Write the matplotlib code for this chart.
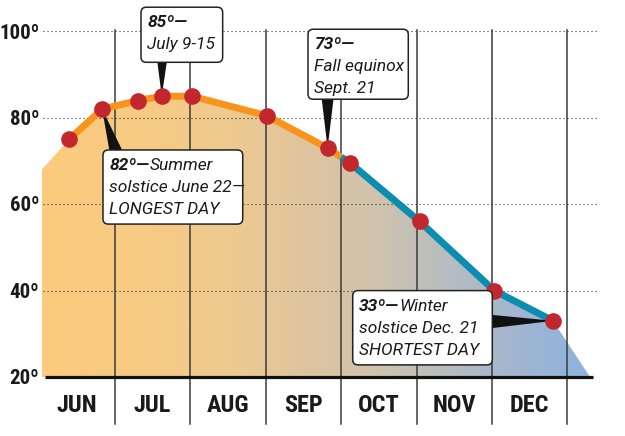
import numpy as np
import matplotlib
matplotlib.use("Agg")
import matplotlib.pyplot as plt
from matplotlib import font_manager
from matplotlib.patches import FancyBboxPatch, Polygon
from matplotlib.colors import LinearSegmentedColormap

# x runs in months: 0 = June 1, 1 = July 1, ... 7 = January 1
months = ["JUN", "JUL", "AUG", "SEP", "OCT", "NOV", "DEC"]
deg_ticks = [20, 40, 60, 80, 100]

# noon sun elevation readings (degrees)
sun_pos = [0.39, 0.83, 1.30, 1.62, 2.02, 3.01, 3.82, 4.12, 5.04, 6.03, 6.81]
sun_deg = [75, 82, 84, 85, 85, 80.5, 73, 69.5, 56, 40, 33]

# shaded area runs a little past the first and last readings
area_start = (0.03, 68)
area_end = (7.30, 20)

# callouts: (bold lead, rest of first line, further lines, index of reading)
callouts = [
    ("85º—", "", ["July 9-15"], 3),
    ("82º—", "Summer", ["solstice June 22—", "LONGEST DAY"], 1),
    ("73º—", "", ["Fall equinox", "Sept. 21"], 6),
    ("33º—", "Winter", ["solstice Dec. 21", "SHORTEST DAY"], 10),
]
# box extents (x0, x1, bottom, top) and pointer base for each callout
boxes = [
    (1.345, 2.428, 92.85, 105.6),
    (0.841, 2.694, 55.4, 72.55),
    (3.560, 4.890, 84.3, 100.5),
    (4.153, 6.004, 22.8, 40.0),
]
pointer_base = [
    [(1.56, 93.2), (1.69, 93.2)],
    [(0.93, 72.0), (1.11, 72.0)],
    [(3.74, 84.6), (3.90, 84.6)],
    [(5.99, 34.4), (5.99, 31.3)],
]

# pick a narrow face for the axis labels
names = {f.name for f in font_manager.fontManager.ttflist}
cond, stretch = "DejaVu Sans", "condensed"
for cand in ["Liberation Sans Narrow", "Roboto Condensed", "Open Sans Condensed",
             "Noto Sans Condensed", "DejaVu Sans Condensed"]:
    if cand in names:
        cond, stretch = cand, "normal"
        break
body = "Roboto" if "Roboto" in names else "DejaVu Sans"

fig = plt.figure(figsize=(6.25, 4.36), dpi=100)
ax = fig.add_axes([0, 0, 1, 1])

# gradient fill under the curve
stops = [(0.03, "#FCCB7C"), (1.5, "#F6CA84"), (2.5, "#EECA90"), (3.5, "#DFC59E"),
         (4.5, "#CFC3AF"), (5.5, "#B5BCC2"), (6.5, "#9DB5D3"), (7.30, "#8EB3DD")]
span = stops[-1][0] - stops[0][0]
cmap = LinearSegmentedColormap.from_list(
    "season", [((p - stops[0][0]) / span, c) for p, c in stops])
area_x = [area_start[0]] + sun_pos + [area_end[0], area_start[0]]
area_y = [area_start[1]] + sun_deg + [area_end[1], area_end[1]]
clip = Polygon(np.column_stack([area_x, area_y]), closed=True,
               facecolor="none", edgecolor="none")
ax.add_patch(clip)
img = ax.imshow(np.linspace(0, 1, 512)[None, :], cmap=cmap, aspect="auto",
                extent=(area_start[0], area_end[0], 20, max(sun_deg) + 2),
                origin="lower", zorder=1, interpolation="bilinear")
img.set_clip_path(clip)

# dotted guides
for d in deg_ticks[1:]:
    ax.plot([0.045, 7.39], [d, d], color="#333333", lw=0.8,
            dashes=(1, 2.6), zorder=2)
# month dividers
for m in range(1, len(months) + 1):
    ax.plot([m, m], [9.1, 100.3], color="#3a3a3a", lw=1.1, zorder=2)
# base line
ax.plot([0.072, 7.34], [20, 20], color="#111111", lw=2.3,
        solid_capstyle="butt", zorder=3)

# sun path: orange through September, blue from October
split = 4.0
split_deg = np.interp(split, sun_pos, sun_deg)
xs = np.array(sun_pos)
ys = np.array(sun_deg)
warm = xs < split
ax.plot(np.r_[xs[warm], split], np.r_[ys[warm], split_deg],
        color="#F7941D", lw=5, solid_capstyle="butt", zorder=4)
ax.plot(np.r_[split, xs[~warm]], np.r_[split_deg, ys[~warm]],
        color="#0A8DB0", lw=5, solid_capstyle="butt", zorder=4)
ax.plot(xs, ys, "o", ms=12, color="#C1272D", mec="none", zorder=5)

# axis labels
for d in deg_ticks:
    ax.text(-0.005, d - 0.4, f"{d}º", ha="right", va="center",
            fontsize=15, fontweight="bold", family=cond, fontstretch=stretch,
            color="#1a1a1a")
for i, name in enumerate(months):
    ax.text(i + 0.5, 13.4, name, ha="center", va="center",
            fontsize=17.5, fontweight="bold", family=cond, fontstretch=stretch,
            color="#1a1a1a")

# callout boxes
aspect = 75.4 / 4.32
for (lead, rest, lines, idx), (x0, x1, b, t), base in zip(callouts, boxes, pointer_base):
    tip = (sun_pos[idx], sun_deg[idx])
    ax.add_patch(Polygon([base[0], tip, base[1]], closed=True,
                         facecolor="#111111", edgecolor="none", zorder=4.5))
    ax.add_patch(FancyBboxPatch((x0, b), x1 - x0, t - b,
                                boxstyle="round,pad=0,rounding_size=0.07",
                                mutation_aspect=aspect,
                                facecolor="white", edgecolor="#222222",
                                lw=1.1, zorder=6))
    first = ax.annotate(lead, xy=(x0, t), xytext=(4.5, -14.5),
                        textcoords="offset points", ha="left", va="baseline",
                        fontsize=12.5, fontweight="bold", fontstyle="italic",
                        family=body, color="#1a1a1a", zorder=7)
    if rest:
        ax.annotate(rest, xy=(1, 0), xycoords=first, ha="left", va="bottom",
                    fontsize=12.5, fontstyle="italic", family=body,
                    color="#1a1a1a", zorder=7)
    for k, line in enumerate(lines, start=1):
        ax.annotate(line, xy=(x0, t), xytext=(4.5, -14.5 - 15.8 * k),
                    textcoords="offset points", ha="left", va="baseline",
                    fontsize=12.5, fontstyle="italic", family=body,
                    color="#1a1a1a", zorder=7)

ax.set_xlim(-0.525, 7.764)
ax.set_ylim(6.34, 107.27)
ax.axis("off")

fig.savefig("out.png", dpi=100)
